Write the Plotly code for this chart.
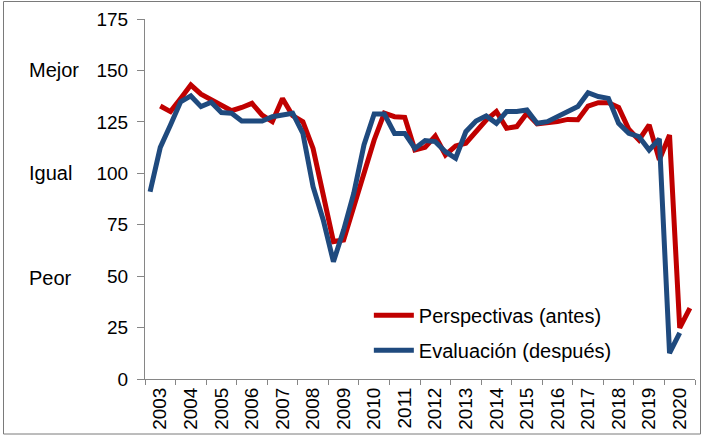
import plotly.graph_objects as go

years = [str(y) for y in range(2003, 2021)]

# three observations per year (Jan, May, Sep)
perspectivas = [None, 132.7, 130.0,
                136.4, 142.9, 138.5,
                136.0, 133.2, 130.4,
                132.0, 134.0, 128.3,
                125.1, 136.4, 128.0,
                125.1, 112.1, 89.5,
                66.8, 67.6, 83.8,
                101.6, 116.2, 129.2,
                127.5, 127.2, 111.3,
                112.6, 118.1, 108.9,
                113.3, 114.6, 120.2,
                125.9, 130.0, 121.9,
                122.7, 129.2, 124.0,
                124.3, 125.1, 126.2,
                126.0, 132.7, 134.3,
                134.3, 132.0, 121.4,
                116.2, 123.5, 106.5,
                118.6, 24.8, 34.5]

evaluacion = [91.0, 112.6, 123.5,
              134.8, 137.6, 132.4,
              134.5, 129.5, 129.2,
              125.4, 125.4, 125.4,
              127.5, 128.3, 129.2,
              119.4, 93.5, 77.3,
              57.0, 72.4, 90.3,
              113.8, 128.8, 128.8,
              119.4, 119.4, 112.1,
              115.9, 115.4, 110.5,
              107.3, 120.2, 125.4,
              127.9, 124.3, 130.0,
              130.0, 130.8, 124.3,
              125.1, 127.5, 130.0,
              132.5, 139.2, 137.3,
              136.4, 124.3, 119.4,
              117.8, 111.3, 116.7,
              12.6, 22.4, None]

series_names = ["Perspectivas (antes)", "Evaluación (después)"]
y_ticks = [0, 25, 50, 75, 100, 125, 150, 175]
side_labels = ["Mejor", "Igual", "Peor"]
side_values = [150, 100, 49]

per_year = 3
n = len(years) * per_year
xs = list(range(n))

RED = "#C00000"
BLUE = "#1F4A7E"
AXIS = "#868686"
FONT = "Liberation Sans, Arial, sans-serif"

fig = go.Figure()
fig.add_trace(go.Scatter(x=xs, y=perspectivas, mode="lines", name=series_names[0],
                         line=dict(color=RED, width=5), legendgroup="a"))
fig.add_trace(go.Scatter(x=xs, y=evaluacion, mode="lines", name=series_names[1],
                         line=dict(color=BLUE, width=5), legendgroup="b"))

fig.update_layout(
    width=702, height=436,
    margin=dict(l=145, r=7, t=19, b=57),
    paper_bgcolor="white", plot_bgcolor="white",
    font=dict(family=FONT, size=19, color="black"),
    showlegend=True,
    legend=dict(x=0.407, y=0.231, xanchor="left", yanchor="top",
                bgcolor="rgba(0,0,0,0)", font=dict(size=20),
                tracegroupgap=6, traceorder="grouped", itemwidth=40),
)

fig.update_xaxes(
    range=[-0.5, n - 0.5],
    automargin=False,
    tickmode="array",
    tickvals=[per_year * k + 1 for k in range(len(years))],
    ticktext=years,
    tickangle=-90,
    ticks="",
    showgrid=False, zeroline=False,
    showline=True, linecolor=AXIS, linewidth=1,
    tickfont=dict(size=19),
    minor=dict(tickmode="array",
               tickvals=[per_year * k - 0.5 for k in range(len(years) + 1)],
               ticks="outside", ticklen=5, tickcolor=AXIS, showgrid=False),
)
fig.update_yaxes(
    range=[0, 175],
    automargin=False,
    tickmode="array", tickvals=y_ticks,
    ticks="outside", ticklen=7, tickcolor=AXIS,
    showgrid=False, zeroline=False,
    showline=True, linecolor=AXIS, linewidth=1,
    ticklabelstandoff=5,
    tickfont=dict(size=19),
)

for lab, v in zip(side_labels, side_values):
    fig.add_annotation(x=-0.2145, xref="paper", y=v, yref="y", text=lab,
                       showarrow=False, xanchor="left", yanchor="middle",
                       font=dict(size=20))

# outer frame
fig.add_shape(type="rect", xref="paper", yref="paper",
              x0=(3.5 - 145) / 550, x1=(700.5 - 145) / 550,
              y0=(379 - 434) / 360, y1=(379 - 1.5) / 360,
              line=dict(color="#7a7a7a", width=1), layer="below")

fig.write_html(
    "out.html",
    config={"displayModeBar": False},
    post_script="document.body.style.margin='0';document.body.style.padding='0';"
                "document.body.style.overflow='hidden';",
)
